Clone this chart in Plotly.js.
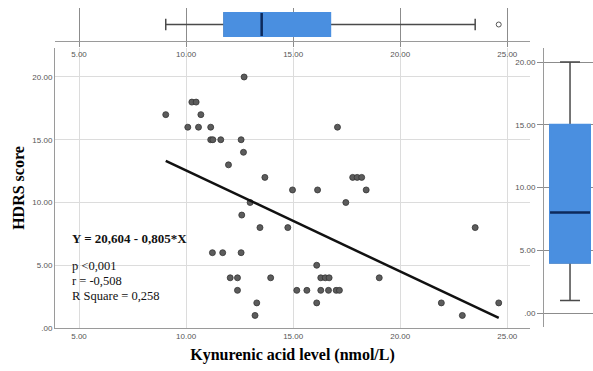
<!DOCTYPE html>
<html>
<head>
<meta charset="utf-8">
<script src="https://cdn.plot.ly/plotly-3.0.1.min.js"></script>
<style>html,body{margin:0;padding:0;background:#fff;}#chart{width:593px;height:371px;}</style>
</head>
<body>
<div id="chart"></div>
<script>
// Scatter data: Kynurenic acid level (x) vs HDRS score (y)
const kynurenic = [12.71, 10.27, 10.47, 9.05, 10.69, 10.08, 10.58, 11.15, 17.07,
  11.15, 11.25, 11.62, 12.57, 12.68, 11.98, 13.68, 17.78, 17.99, 18.20,
  14.97, 16.14, 18.41, 12.99, 17.46, 12.60, 13.45, 14.75, 23.50,
  11.23, 11.71, 12.57, 16.10,
  12.06, 12.40, 13.95, 16.29, 16.50, 16.68, 19.02,
  12.40, 15.17, 15.64, 16.29, 16.65, 17.01, 17.16,
  13.30, 16.10, 21.92, 24.60, 13.22, 22.90];
const hdrs = [20, 18, 18, 17, 17, 16, 16, 16, 16,
  15, 15, 15, 15, 14, 13, 12, 12, 12, 12,
  11, 11, 11, 10, 10, 9, 8, 8, 8,
  6, 6, 6, 5,
  4, 4, 4, 4, 4, 4, 4,
  3, 3, 3, 3, 3, 3, 3,
  2, 2, 2, 2, 1, 1];

// Fit line end points (Y = 20,604 - 0,805*X)
const fitX = [9.05, 24.60];
const fitY = [13.32, 0.80];

// Boxplot statistics for kynurenic acid (top) and HDRS (right)
const kynLow = [9.05], kynQ1 = [11.78], kynMed = [13.53], kynQ3 = [16.73], kynHigh = [23.50];
const kynOutlier = [24.60];
const hdrsLow = [1], hdrsQ1 = [4], hdrsMed = [8], hdrsQ3 = [15], hdrsHigh = [20];

// Tick labels
const xTickVals = [5, 10, 15, 20, 25];
const xTickText = ['5.00', '10.00', '15.00', '20.00', '25.00'];
const yTickVals = [0, 5, 10, 15, 20];
const yTickText = ['.00', '5.00', '10.00', '15.00', '20.00'];

const boxBlue = '#4a8fe0';
const whiskerGrey = '#4a4a4a';
const medianNavy = '#0d2a5c';
const tickFont = {family: 'Liberation Sans, Arial, sans-serif', size: 8, color: '#555'};
const serif = 'Liberation Serif, Times New Roman, serif';

function boxTraces(pos, lo, q1, med, q3, hi, xa, ya, orient, w) {
  const posKey = orient === 'h' ? 'y' : 'x';
  const base = {type: 'box', orientation: orient, xaxis: xa, yaxis: ya, width: w,
    whiskerwidth: 0.5, boxpoints: false, hoverinfo: 'skip', showlegend: false};
  const a = Object.assign({}, base, {q1: q1, median: med, q3: q3, lowerfence: lo, upperfence: hi,
    fillcolor: boxBlue, line: {color: whiskerGrey, width: 1.5}});
  a[posKey] = pos;
  const b = Object.assign({}, base, {q1: q1, median: med, q3: q3, lowerfence: q1, upperfence: q3,
    fillcolor: boxBlue, line: {color: boxBlue, width: 2}, whiskerwidth: 0});
  b[posKey] = pos;
  const c = Object.assign({}, base, {q1: med, median: med, q3: med, lowerfence: med, upperfence: med,
    fillcolor: medianNavy, line: {color: medianNavy, width: 2.5}, whiskerwidth: 0});
  c[posKey] = pos;
  return [a, b, c];
}

const traces = [
  {type: 'scatter', mode: 'markers', x: kynurenic, y: hdrs, xaxis: 'x', yaxis: 'y',
   marker: {size: 6, color: '#5c5c5c', line: {color: '#333', width: 0.8}},
   showlegend: false, hoverinfo: 'x+y'},
  {type: 'scatter', mode: 'lines', x: fitX, y: fitY, xaxis: 'x', yaxis: 'y',
   line: {color: '#111', width: 2.5}, showlegend: false, hoverinfo: 'skip'},
  ...boxTraces([0], kynLow, kynQ1, kynMed, kynQ3, kynHigh, 'x2', 'y2', 'h', 0.7),
  {type: 'scatter', mode: 'markers', x: kynOutlier, y: [0], xaxis: 'x2', yaxis: 'y2',
   marker: {symbol: 'circle-open', size: 5, color: '#555', line: {width: 1}},
   showlegend: false, hoverinfo: 'x'},
  ...boxTraces([0], hdrsLow, hdrsQ1, hdrsMed, hdrsQ3, hdrsHigh, 'x3', 'y3', 'v', 0.816)
];

const W = 593, H = 371;
const px = v => v / W;
const py = v => (H - v) / H;

const layout = {
  width: W, height: H,
  margin: {l: 0, r: 0, t: 0, b: 0},
  paper_bgcolor: '#fff', plot_bgcolor: 'rgba(0,0,0,0)',
  showlegend: false,
  xaxis: {domain: [px(55), px(530)], range: [3.879, 26.06], anchor: 'y',
    tickvals: xTickVals, ticktext: xTickText, tickfont: tickFont,
    showgrid: true, gridcolor: '#dcdcdc', gridwidth: 1, zeroline: false,
    showline: true, linecolor: '#9a9a9a', linewidth: 1, ticks: '',
    title: {text: '<b>Kynurenic acid level (nmol/L)</b>', font: {family: serif, size: 16, color: '#000'}, standoff: 9}},
  yaxis: {domain: [py(328), py(48)], range: [0, 22.31], anchor: 'x',
    tickvals: yTickVals, ticktext: yTickText, tickfont: tickFont,
    showgrid: true, gridcolor: '#dcdcdc', gridwidth: 1, zeroline: false,
    showline: true, linecolor: '#9a9a9a', linewidth: 1, ticks: '',
    title: {text: '<b>HDRS score</b>', font: {family: serif, size: 16, color: '#000'}, standoff: 3}},
  xaxis2: {domain: [px(55), px(530)], range: [3.879, 26.06], anchor: 'y2',
    tickvals: xTickVals, ticktext: xTickText, tickfont: tickFont,
    showgrid: true, gridcolor: '#8c8c8c', gridwidth: 1, zeroline: false,
    showline: true, linecolor: '#9a9a9a', linewidth: 1,
    ticks: 'outside', ticklen: 5, tickcolor: '#8c8c8c'},
  yaxis2: {domain: [py(41), py(8)], range: [-0.5, 0.5], anchor: 'x2', visible: false},
  xaxis3: {domain: [px(544), 1], range: [-0.531, 0.469], anchor: 'y3', visible: false},
  yaxis3: {domain: [py(327), py(48)], range: [-1.116, 21.12], anchor: 'x3',
    tickvals: yTickVals, ticktext: yTickText, tickfont: tickFont,
    showgrid: true, gridcolor: '#8c8c8c', gridwidth: 1, zeroline: false,
    showline: true, linecolor: '#9a9a9a', linewidth: 1,
    ticks: 'outside', ticklen: 6, tickcolor: '#8c8c8c'},
  annotations: [
    {xref: 'x', yref: 'y', x: 4.6, y: 7.17, xanchor: 'left', yanchor: 'middle', showarrow: false,
     text: '<b>Y = 20,604 - 0,805*X</b>', font: {family: serif, size: 13, color: '#111'}},
    {xref: 'x', yref: 'y', x: 4.6, y: 4.94, xanchor: 'left', yanchor: 'middle', showarrow: false,
     text: 'p &lt;0,001', font: {family: serif, size: 12.5, color: '#111'}},
    {xref: 'x', yref: 'y', x: 4.6, y: 3.74, xanchor: 'left', yanchor: 'middle', showarrow: false,
     text: 'r = -0,508', font: {family: serif, size: 12.5, color: '#111'}},
    {xref: 'x', yref: 'y', x: 4.6, y: 2.53, xanchor: 'left', yanchor: 'middle', showarrow: false,
     text: 'R Square = 0,258', font: {family: serif, size: 12.5, color: '#111'}}
  ]
};

Plotly.newPlot('chart', traces, layout, {displayModeBar: false, staticPlot: true});
</script>
</body>
</html>
